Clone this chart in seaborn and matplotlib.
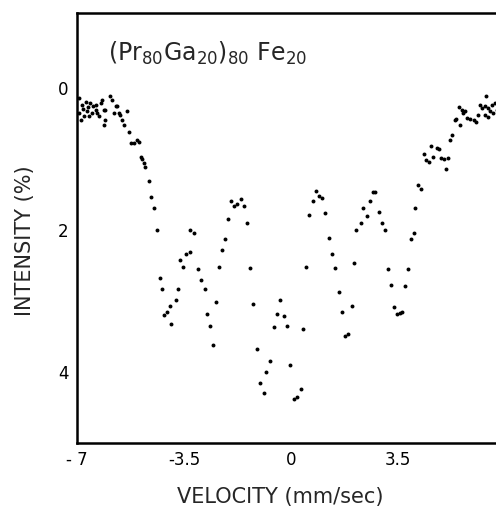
import numpy as np
import pandas as pd
import seaborn as sns
import matplotlib.pyplot as plt

# --- data (velocity mm/s, intensity %) ---
velocity = [
    -6.95, -6.92, -6.88, -6.85, -6.80, -6.76, -6.72, -6.68, -6.64, -6.60,
    -6.56, -6.52, -6.48, -6.39, -6.39, -6.34, -6.28, -6.23, -6.18, -6.12,
    -6.07, -6.07, -6.12, -5.93, -5.85, -5.79, -5.74, -5.69, -5.63, -5.58,
    -5.52, -5.47, -5.36, -5.30, -5.22, -5.14, -5.03, -4.98, -4.92, -4.87,
    -4.81, -4.78, -4.65, -4.58, -4.49, -4.38, -4.30, -4.22, -4.14, -4.05,
    -3.95, -3.91, -3.76, -3.70, -3.62, -3.54, -3.43, -3.32, -3.29, -3.18,
    -3.05, -2.95, -2.82, -2.75, -2.66, -2.56, -2.45, -2.36, -2.25, -2.15,
    -2.06, -1.95, -1.87, -1.76, -1.63, -1.54, -1.44, -1.33, -1.23, -1.11,
    -1.02, -0.87, -0.81, -0.68, -0.57, -0.46, -0.35, -0.22, -0.13, -0.04,
    0.09, 0.21, 0.32, 0.38, 0.49, 0.58, 0.72, 0.83, 0.90, 1.01,
    1.12, 1.25, 1.34, 1.43, 1.58, 1.66, 1.77, 1.86, 1.99, 2.05,
    2.13, 2.28, 2.36, 2.47, 2.58, 2.69, 2.74, 2.87, 2.98, 3.06,
    3.16, 3.28, 3.37, 3.47, 3.55, 3.63, 3.74, 3.82, 3.91, 4.01,
    4.07, 4.15, 4.26, 4.36, 4.41, 4.50, 4.59, 4.66, 4.77, 4.85,
    4.92, 4.99, 5.07, 5.13, 5.21, 5.28, 5.35, 5.40, 5.48, 5.53,
    5.59, 5.64, 5.70, 5.75, 5.86, 5.97, 6.05, 6.13, 6.19, 6.24,
    6.35, 6.35, 6.39, 6.46, 6.46, 6.51, 6.57, 6.62, 6.68, 6.73,
    6.76,
]
intensity = [
    0.35, 0.15, 0.45, 0.25, 0.30, 0.40, 0.20, 0.33, 0.27, 0.40,
    0.22, 0.35, 0.26, 0.31, 0.24, 0.36, 0.40, 0.21, 0.17, 0.31,
    0.32, 0.45, 0.52, 0.12, 0.18, 0.36, 0.26, 0.26, 0.36, 0.38,
    0.45, 0.52, 0.33, 0.62, 0.78, 0.78, 0.73, 0.76, 0.98, 1.01,
    1.06, 1.11, 1.31, 1.54, 1.69, 2.00, 2.68, 2.84, 3.20, 3.15,
    3.07, 3.32, 2.99, 2.84, 2.42, 2.53, 2.34, 2.31, 2.01, 2.04,
    2.55, 2.71, 2.83, 3.19, 3.35, 3.62, 3.02, 2.52, 2.28, 2.13,
    1.85, 1.59, 1.66, 1.64, 1.56, 1.67, 1.91, 2.54, 3.04, 3.68,
    4.15, 4.30, 4.00, 3.84, 3.37, 3.18, 2.99, 3.22, 3.35, 3.90,
    4.38, 4.35, 4.24, 3.40, 2.53, 1.79, 1.59, 1.45, 1.52, 1.55,
    1.76, 2.12, 2.34, 2.54, 2.87, 3.16, 3.50, 3.46, 3.07, 2.47,
    2.01, 1.90, 1.70, 1.80, 1.60, 1.47, 1.47, 1.75, 1.91, 2.00,
    2.55, 2.77, 3.09, 3.18, 3.17, 3.16, 2.79, 2.55, 2.13, 2.05,
    1.70, 1.37, 1.43, 0.94, 1.02, 1.05, 0.82, 0.98, 0.85, 0.87,
    0.99, 1.00, 1.15, 0.99, 0.74, 0.66, 0.46, 0.44, 0.27, 0.53,
    0.31, 0.36, 0.33, 0.43, 0.44, 0.46, 0.48, 0.38, 0.24, 0.29,
    0.26, 0.39, 0.12, 0.29, 0.41, 0.33, 0.24, 0.35, 0.22, 0.31,
    0.03,
]
x_ticks = [-7, -3.5, 0, 3.5]
x_tick_labels = ["- 7", "-3.5", "0", "3.5"]
y_ticks = [0, 1, 2, 3, 4]
y_tick_labels = ["0", "", "2", "", "4"]

df = pd.DataFrame({"velocity": velocity, "intensity": intensity})

sns.set_theme(style="white")
plt.rcParams["font.family"] = ["DejaVu Sans"]

fig = plt.figure(figsize=(4.96, 5.14), dpi=100)
ax = fig.add_axes([77 / 496, 1 - 443 / 514, 428 / 496, 430 / 514])

sns.scatterplot(data=df, x="velocity", y="intensity", ax=ax,
                color="black", s=8, linewidth=0, legend=False)

ax.set_xlim(-7, 7)
ax.set_ylim(5, -1.05)

ax.set_xticks(x_ticks)
ax.set_xticklabels(x_tick_labels)
ax.set_yticks(y_ticks)
ax.set_yticklabels(y_tick_labels)
ax.tick_params(direction="in", length=9, width=1.5, colors="black",
               labelsize=12, pad=6)

for side in ["left", "bottom", "top", "right"]:
    ax.spines[side].set_color("black")
    ax.spines[side].set_linewidth(1.8)
ax.spines["right"].set_visible(False)

ax.set_xlabel("")
ax.set_ylabel("")
fig.text(280 / 496, 1 - 497 / 514, "VELOCITY (mm/sec)", ha="center", va="center",
         fontsize=15)
fig.text(25 / 496, 1 - 241 / 514, "INTENSITY (%)", ha="center", va="center",
         rotation=90, fontsize=15)

ax.text(-6.0, -0.38, r"$\mathregular{(Pr_{80}Ga_{20})_{80}\ Fe_{20}}$",
        fontsize=17, ha="left", va="baseline")

fig.savefig("out.png", dpi=100)
